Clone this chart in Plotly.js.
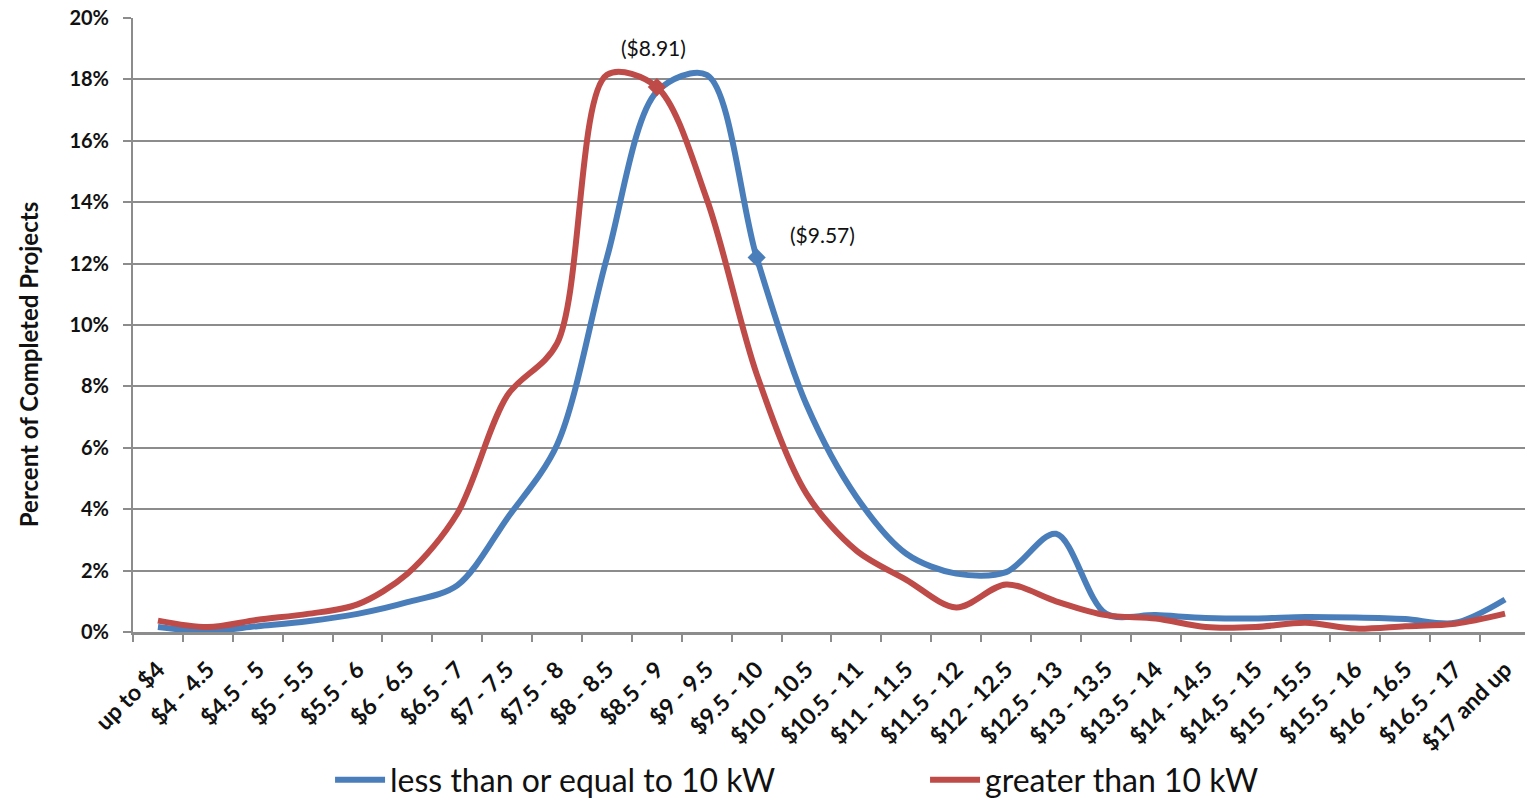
<!DOCTYPE html>
<html>
<head>
<meta charset="utf-8">
<script src="https://cdn.plot.ly/plotly-3.0.1.min.js"></script>
<style>
  html, body { margin: 0; padding: 0; background: #ffffff; }
  #chart { width: 1525px; height: 801px; }
</style>
</head>
<body>
<div id="chart"></div>
<script>
// ---- Data ----
const categories = ["up to $4","$4 - 4.5","$4.5 - 5","$5 - 5.5","$5.5 - 6","$6 - 6.5","$6.5 - 7","$7 - 7.5","$7.5 - 8","$8 - 8.5","$8.5 - 9","$9 - 9.5","$9.5 - 10","$10 - 10.5","$10.5 - 11","$11 - 11.5","$11.5 - 12","$12 - 12.5","$12.5 - 13","$13 - 13.5","$13.5 - 14","$14 - 14.5","$14.5 - 15","$15 - 15.5","$15.5 - 16","$16 - 16.5","$16.5 - 17","$17 and up"];
const smallSystems = [0.16,0.03,0.19,0.35,0.59,0.97,1.52,3.7,6.1,12.2,17.6,18.15,12.2,7.4,4.4,2.55,1.9,1.95,3.2,0.6,0.55,0.46,0.44,0.49,0.47,0.42,0.3,1.06];
const largeSystems = [0.37,0.16,0.4,0.59,0.9,1.9,3.86,7.7,9.4,18.15,17.75,14.1,8.4,4.5,2.65,1.7,0.8,1.55,1.0,0.55,0.44,0.16,0.16,0.3,0.11,0.19,0.27,0.6];
const seriesNames = ["less than or equal to 10 kW", "greater than 10 kW"];
const smallMeanCategory = "$9.5 - 10";
const smallMeanLabel = "($9.57)";
const largeMeanCategory = "$8.5 - 9";
const largeMeanLabel = "($8.91)";
const yTickValues = [0,2,4,6,8,10,12,14,16,18,20];
const yAxisTitle = "Percent of Completed Projects";

// ---- Styling ----
const BLUE = "#4a7ebb";
const RED = "#be4b48";
const GRID = "#8c8c8c";
const FONT = "Lato, 'Liberation Sans', Arial, sans-serif";

const smallMeanY = smallSystems[categories.indexOf(smallMeanCategory)];
const largeMeanY = largeSystems[categories.indexOf(largeMeanCategory)];

const traces = [
  {
    x: categories, y: smallSystems, name: seriesNames[0], type: "scatter", mode: "lines",
    line: { color: BLUE, width: 6, shape: "spline", smoothing: 0.9 }
  },
  {
    x: categories, y: largeSystems, name: seriesNames[1], type: "scatter", mode: "lines",
    line: { color: RED, width: 6, shape: "spline", smoothing: 0.9 }
  },
  {
    x: [smallMeanCategory], y: [smallMeanY], type: "scatter", mode: "markers", showlegend: false,
    marker: { symbol: "diamond", size: 14, color: BLUE }
  },
  {
    x: [largeMeanCategory], y: [largeMeanY], type: "scatter", mode: "markers", showlegend: false,
    marker: { symbol: "diamond", size: 14, color: RED }
  }
];

const layout = {
  width: 1525, height: 801,
  margin: { l: 133, r: 0, t: 18, b: 169, autoexpand: false },
  paper_bgcolor: "#ffffff", plot_bgcolor: "#ffffff",
  font: { family: FONT, color: "#111111" },
  showlegend: true,
  legend: {
    orientation: "h", x: 0.569, xanchor: "center", y: -0.241, yanchor: "middle",
    font: { size: 32, family: FONT, color: "#111111" },
    entrywidth: 530, itemwidth: 50, tracegroupgap: 0,
    bgcolor: "rgba(0,0,0,0)"
  },
  xaxis: {
    type: "category",
    range: [-0.5, 27.4],
    automargin: false,
    tickangle: -45,
    tickfont: { size: 23, family: FONT, weight: "bold", color: "#111111" },
    ticks: "outside", tickson: "boundaries", ticklen: 7, tickwidth: 2, tickcolor: GRID,
    showgrid: false, zeroline: false,
    showline: true, linecolor: GRID, linewidth: 3,
    ticklabelstandoff: 12,
    fixedrange: true
  },
  yaxis: {
    range: [0, 20],
    automargin: false,
    tickvals: yTickValues,
    ticktext: yTickValues.map(v => v + "%"),
    tickfont: { size: 20, family: FONT, weight: "bold", color: "#111111" },
    ticks: "outside", ticklen: 8, tickwidth: 2, tickcolor: GRID,
    showgrid: true, gridcolor: GRID, gridwidth: 2,
    zeroline: false,
    showline: true, linecolor: GRID, linewidth: 2,
    ticklabelstandoff: 10,
    fixedrange: true
  },
  annotations: [
    { xref: "paper", yref: "paper", x: -0.0755, y: 0.436, xanchor: "center", yanchor: "middle",
      text: yAxisTitle, textangle: -90, showarrow: false,
      font: { size: 24, family: FONT, weight: "bold", color: "#111111" } },
    { x: largeMeanCategory, y: largeMeanY, text: largeMeanLabel, showarrow: false,
      xshift: -3, yshift: 40, font: { size: 21, family: FONT, color: "#111111" } },
    { x: smallMeanCategory, y: smallMeanY, text: smallMeanLabel, showarrow: false,
      xshift: 66, yshift: 23, font: { size: 21, family: FONT, color: "#111111" } }
  ]
};

Plotly.newPlot("chart", traces, layout, { displayModeBar: false, staticPlot: true });
</script>
</body>
</html>
